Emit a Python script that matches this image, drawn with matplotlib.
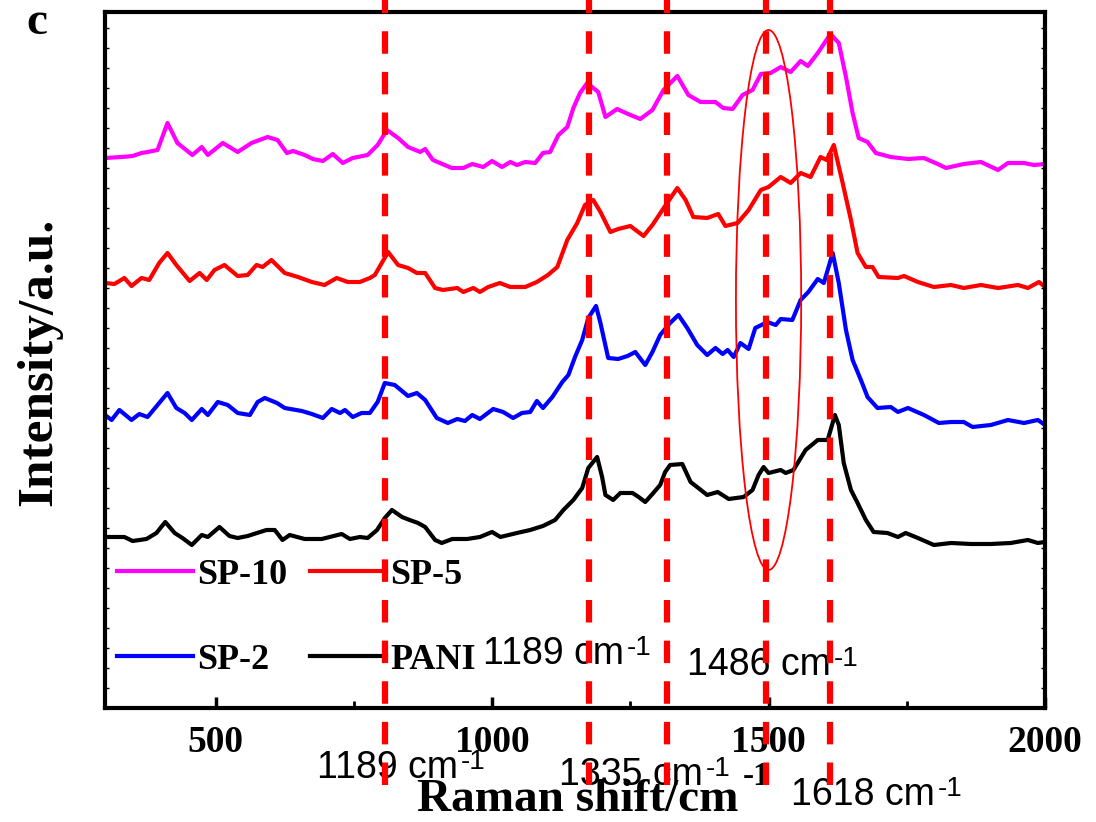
import matplotlib
matplotlib.use("Agg")
import matplotlib.pyplot as plt
from matplotlib.patches import Ellipse
from matplotlib.ticker import MultipleLocator

# Raman spectra (x: Raman shift / cm-1, y: intensity a.u., offset traces)
shift_sp10 = [300, 330, 350, 366, 377, 395, 413, 431, 458, 475, 486, 513, 540, 565, 594, 612, 629, 640,
              661, 676, 694, 712, 730, 748, 775, 793, 810, 830, 848, 870, 879, 893, 927, 948, 964, 984,
              1000, 1018, 1033, 1045, 1060, 1078, 1092, 1105, 1120, 1136, 1147, 1159, 1172, 1192, 1205,
              1226, 1246, 1268, 1290, 1310, 1335, 1355, 1377, 1404, 1418, 1435, 1453, 1471, 1486, 1504,
              1522, 1540, 1558, 1571, 1589, 1612, 1627, 1640, 1652, 1663, 1679, 1694, 1721, 1752, 1781,
              1806, 1821, 1853, 1884, 1915, 1933, 1962, 1980, 2000]
int_sp10 = [550, 551, 552, 555, 556, 558, 585, 565, 553, 561, 553, 565, 556, 565, 571, 568, 555, 557,
            553, 549, 547, 554, 545, 550, 553, 563, 578, 570, 561, 556, 559, 548, 540, 540, 544, 541,
            547, 541, 546, 543, 546, 545, 555, 556, 573, 581, 600, 615, 625, 616, 591,
            599, 594, 589, 598, 618, 632, 613, 606, 606, 600, 599, 613, 618, 634, 635,
            641, 636, 647, 642, 655, 674, 665, 631, 595, 570, 566, 555, 551, 549, 550,
            544, 540, 544, 546, 538, 545, 545, 543, 544]

shift_sp5 = [300, 317, 335, 348, 366, 380, 398, 413, 429, 453, 471, 484, 498, 516, 540, 558, 574, 585,
             601, 625, 649, 674, 697, 719, 739, 761, 779, 788, 812, 830, 848, 864, 879, 897, 911, 937,
             948, 966, 978, 993, 1014, 1033, 1060, 1081, 1101, 1118, 1136, 1154, 1168, 1183, 1196,
             1214, 1228, 1250, 1274, 1290, 1308, 1335, 1350, 1364, 1389, 1409, 1422, 1444, 1464, 1486,
             1500, 1522, 1540, 1558, 1576, 1594, 1605, 1618, 1634, 1649, 1661, 1676, 1688, 1699, 1734,
             1745, 1770, 1799, 1830, 1853, 1884, 1915, 1951, 1969, 1989, 2000]
int_sp5 = [425, 424, 430, 422, 430, 428, 445, 455, 443, 427, 435, 428, 438, 443, 432, 433, 443, 441,
           448, 435, 431, 426, 423, 430, 426, 426, 430, 433, 456, 443, 440, 435, 435, 420, 418, 420,
           416, 420, 416, 421, 425, 421, 421, 426, 433, 441, 468, 485, 503, 508, 496,
           476, 479, 482, 472, 483, 498, 520, 508, 491, 490, 494, 482, 485, 498, 518,
           521, 531, 525, 535, 531, 551, 548, 563, 525, 488, 455, 441, 441, 431, 430,
           432, 426, 421, 423, 420, 423, 420, 423, 420, 426, 421]

shift_sp2 = [300, 312, 326, 348, 362, 377, 395, 413, 429, 444, 457, 475, 486, 504, 522, 540, 562, 576,
             589, 611, 625, 656, 674, 694, 710, 725, 734, 748, 764, 779, 793, 806, 824, 848, 864, 879,
             900, 920, 937, 951, 964, 978, 1002, 1020, 1038, 1054, 1069, 1081, 1092, 1109, 1127, 1138,
             1150, 1163, 1174, 1188, 1196, 1210, 1228, 1245, 1259, 1277, 1290, 1304, 1322, 1337, 1353,
             1371, 1389, 1404, 1417, 1426, 1437, 1449, 1464, 1476, 1498, 1513, 1522, 1543, 1558, 1572,
             1589, 1600, 1616, 1627, 1640, 1652, 1667, 1679, 1697, 1721, 1734, 1752, 1781, 1808, 1830,
             1853, 1869, 1902, 1933, 1962, 1987, 2000]
int_sp2 = [293, 288, 298, 288, 294, 291, 303, 315, 300, 295, 288, 299, 293, 306, 303, 295, 293, 306,
           310, 305, 300, 297, 294, 290, 299, 295, 298, 291, 295, 295, 306, 325, 323, 312, 315, 308,
           290, 285, 289, 287, 293, 289, 299, 296, 290, 295, 296, 307, 300, 311, 326, 333,
           351, 368, 390, 402, 385, 350, 349, 352, 356, 343, 356, 373, 385, 393, 380,
           363, 353, 360, 354, 358, 351, 365, 359, 380, 386, 383, 389, 388, 408, 416,
           429, 425, 455, 425, 378, 348, 328, 311, 300, 301, 296, 300, 293, 285, 286,
           286, 281, 283, 288, 285, 288, 283]

shift_pani = [300, 335, 350, 375, 393, 409, 426, 440, 457, 475, 486, 507, 525, 540, 558, 592, 607, 621,
              634, 661, 692, 728, 743, 761, 775, 792, 806, 819, 837, 851, 866, 879, 897, 909, 928, 955,
              978, 1000, 1015, 1045, 1069, 1092, 1114, 1129, 1147, 1163, 1174, 1190, 1199, 1205, 1219,
              1232, 1254, 1265, 1277, 1290, 1304, 1313, 1322, 1344, 1359, 1373, 1389, 1408, 1428, 1455,
              1471, 1482, 1491, 1500, 1522, 1531, 1545, 1567, 1589, 1607, 1620, 1627, 1636, 1649, 1661,
              1676, 1690, 1715, 1734, 1748, 1770, 1799, 1830, 1866, 1902, 1938, 1969, 1987, 2000]
int_pani = [171, 171, 167, 169, 175, 186, 175, 170, 163, 173, 171, 181, 172, 170, 172, 178, 178, 168,
            173, 169, 169, 174, 169, 171, 170, 178, 190, 198, 191, 188, 185, 181, 168, 165, 169, 169,
            171, 176, 171, 175, 178, 182, 188, 198, 208, 220, 240, 251, 231, 213, 208,
            215, 215, 211, 206, 214, 223, 236, 243, 244, 226, 220, 213, 216, 209, 211,
            218, 233, 241, 235, 238, 235, 238, 258, 268, 268, 293, 283, 245, 218, 205,
            188, 176, 175, 171, 175, 170, 163, 165, 164, 164, 165, 168, 165, 166]

peak_lines = [807, 1176, 1317, 1496, 1612]

fig = plt.figure(figsize=(10.96, 8.22), dpi=100)
ax = fig.add_axes([0.0958, 0.1387, 0.8577, 0.8467])

l10, = ax.plot(shift_sp10, int_sp10, color="#ff00ff", lw=3, label="SP-10")
l5, = ax.plot(shift_sp5, int_sp5, color="#ff0000", lw=3, label="SP-5")
l2, = ax.plot(shift_sp2, int_sp2, color="#0000ff", lw=3, label="SP-2")
l0, = ax.plot(shift_pani, int_pani, color="black", lw=3, label="PANI")

ax.set_xlim(300, 2000)
ax.set_ylim(0, 696)

# marked bands
for xp in peak_lines:
    ax.axvline(xp, ymin=-0.11, ymax=1.02, color="#ff0000", lw=4.5,
               linestyle=(0, (3.6, 2.9)), clip_on=False, zorder=6)

ax.add_patch(Ellipse((1500, 408), 118, 540, fill=False, edgecolor="#ff0000", lw=1.3, zorder=4))

serif = "Liberation Serif"
sans = "Liberation Sans"

leg = ax.legend([l10, l2, l5, l0], ["SP-10", "SP-2", "SP-5", "PANI"], ncol=2, frameon=False,
                loc="lower left", bbox_to_anchor=(0.013, 0.045), borderaxespad=0, borderpad=0,
                handlelength=2.1, handletextpad=0.12, columnspacing=0.62, labelspacing=1.42,
                prop={"family": serif, "weight": "bold", "size": 26})


def cm_label(x, y, num):
    t = ax.text(x, y, num + " cm", family=sans, fontsize=27, clip_on=False)
    ax.annotate("-1", xy=(1, 1), xycoords=t, xytext=(2, 1), textcoords="offset points",
                family=sans, fontsize=20, ha="left", va="top", annotation_clip=False)


# wavenumber labels
cm_label(984, 44, "1189")
cm_label(1353, 33, "1486")
cm_label(683, -70, "1189")
cm_label(1121, -77, "1335")
cm_label(1540, -97, "1618")

ax.set_xticks([500, 1000, 1500, 2000])
ax.xaxis.set_minor_locator(MultipleLocator(250))
ax.yaxis.set_major_locator(MultipleLocator(20))
ax.set_yticklabels([])
ax.tick_params(axis="x", which="major", direction="in", length=8, width=2.5, pad=12)
ax.tick_params(axis="x", which="minor", direction="in", length=5, width=2, top=False)
ax.tick_params(axis="y", which="major", direction="in", length=3, width=1, left=True, right=True)
for lab in ax.get_xticklabels():
    lab.set_family(serif)
    lab.set_fontweight("bold")
    lab.set_fontsize(27)
for sp in ax.spines.values():
    sp.set_linewidth(3)

ax.set_xlabel("Raman shift/cm", family=serif, fontweight="bold", fontsize=34)
ax.xaxis.set_label_coords(0.503, -0.148)
ax.xaxis.label.set_va("baseline")
ax.annotate("-1", xy=(1, 0), xycoords=ax.xaxis.label, xytext=(3, 21), textcoords="offset points",
            family=serif, fontweight="bold", fontsize=24, ha="left", va="bottom",
            annotation_clip=False)
ax.set_ylabel("Intensity/a.u.", family=serif, fontweight="bold", fontsize=37)
ax.yaxis.set_label_coords(-0.045, 0.497)

fig.text(0.034, 0.972, "c", family=serif, fontweight="bold", fontsize=34, ha="center", va="center")

fig.savefig("out.png", dpi=100)
